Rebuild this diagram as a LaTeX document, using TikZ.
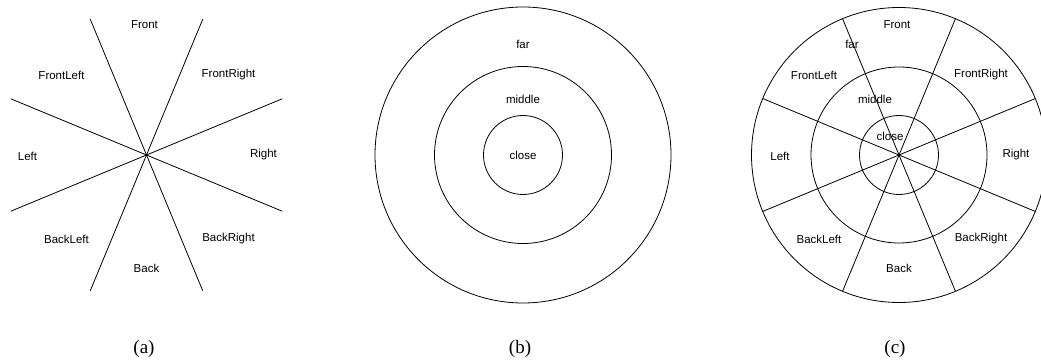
\documentclass[tikz,border=0pt]{standalone}
\usepackage{fontspec}
\setmainfont{Liberation Serif}
\setsansfont{Liberation Sans}
\usetikzlibrary{positioning,calc}

\newcommand{\dirlabels}[1]{%
  \foreach \nome/\dx/\dy in {Front/-2/-130, FrontRight/82/-80, Right/117/0,
      BackRight/82/84, Back/0/113, BackLeft/-80/84, Left/-119/1, FrontLeft/-85/-80}
    \node[rotulo] (#1-\nome) at ($(#1)+(\dx,\dy)$) {\nome};}

\begin{document}
\begin{tikzpicture}[x=1pt, y=-1pt,
      font=\sffamily\fontsize{11.5}{13}\selectfont,
      rotulo/.style={inner sep=1pt},
      legenda/.style={font=\rmfamily\fontsize{19}{21}\selectfont, inner sep=1pt},
      traco/.style={line width=0.8pt}]
    \useasboundingbox (0,0) rectangle (1041,363);
    % centros dos tres paineis
    \coordinate (ca) at (146.5,155);
    \coordinate (cb) at (523,155);
    \coordinate (cc) at (899,155);

    % (a) direcoes
    \foreach \ang in {22.5,67.5,...,337.5}
      \draw[traco] (ca) -- ++(\ang:147);
    \dirlabels{ca}

    % (b) distancias
    \draw[traco] (cb) circle[radius=39.5] (cb) circle[radius=88.5] (cb) circle[radius=148];
    \node[rotulo] (cb-close) at (cb) {close};
    \node[rotulo, above=56pt of cb.center, anchor=center] (cb-middle) {middle};
    \node[rotulo, above=111pt of cb.center, anchor=center] (cb-far) {far};

    % (c) combinado
    \draw[traco] (cc) circle[radius=39.5] (cc) circle[radius=88] (cc) circle[radius=147.5];
    \foreach \ang in {22.5,67.5,...,337.5}
      \draw[traco] (cc) -- ++(\ang:147.5);
    \dirlabels{cc}
    \node[rotulo] (cc-close) at ($(cc)+(-9,-19)$) {close};
    \node[rotulo] (cc-middle) at ($(cc)+(-24,-56)$) {middle};
    \node[rotulo] (cc-far) at ($(cc)+(-47,-111)$) {far};

    % legendas
    \node[legenda] (la) at (144,348.5) {(a)};
    \node[legenda] (lb) at (520,348.5) {(b)};
    \node[legenda] (lc) at (895,348.5) {(c)};
\end{tikzpicture}
\end{document}
